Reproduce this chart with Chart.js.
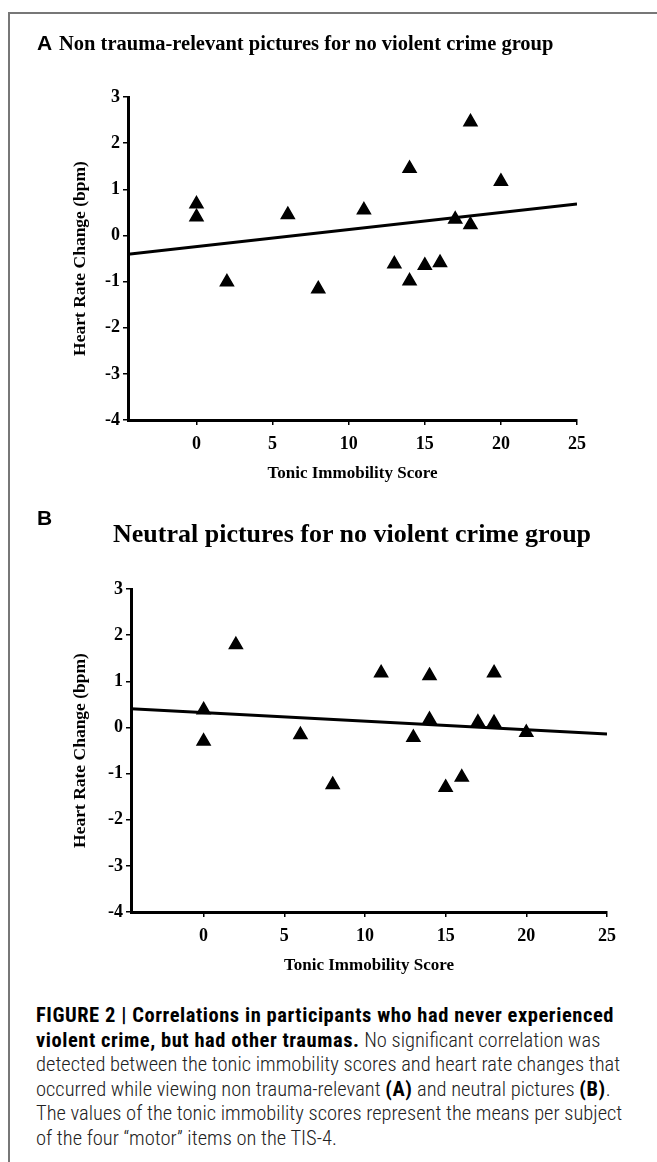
<!DOCTYPE html>
<html>
<head>
<meta charset="utf-8">
<script src="https://cdn.jsdelivr.net/npm/chart.js@4.4.0/dist/chart.umd.min.js"></script>
<style>
  html, body { margin: 0; padding: 0; background: #fff; }
  body { width: 657px; height: 1162px; position: relative; overflow: hidden; }
  .frame { position: absolute; left: 8px; top: 12px; right: -4px; bottom: -4px; border-left: 2px solid #777; border-top: 2px solid #777; }
  canvas { position: absolute; left: 0; }
  .letter { position: absolute; font-family: "Liberation Sans", Arial, sans-serif; font-weight: bold; font-size: 21px; line-height: 22px; }
  .ptitle { position: absolute; font-family: "Liberation Serif", "Times New Roman", serif; font-weight: bold; white-space: nowrap; }
  .caption { position: absolute; left: 36px; top: 1003px; width: 640px; font-family: "Liberation Sans Narrow", "Roboto Condensed", "Arial Narrow", sans-serif; font-weight: 300; font-size: 20.5px; line-height: 24.5px; color: #222; }
  .caption div { white-space: nowrap; }
  .caption b { color: #000; font-weight: 700; letter-spacing: 0.55px; }
</style>
</head>
<body>
<div class="frame"></div>
<canvas id="chartA" width="657" height="500" style="top:0"></canvas>
<canvas id="chartB" width="657" height="500" style="top:492px"></canvas>

<div class="letter" style="left:37px; top:32px">A</div>
<div class="ptitle" style="left:59px; top:31px; font-size:20.5px; line-height:24px">Non trauma-relevant pictures for no violent crime group</div>
<div class="letter" style="left:37px; top:507px">B</div>
<div class="ptitle" style="left:113px; top:519px; font-size:26px; line-height:30px">Neutral pictures for no violent crime group</div>

<div class="caption">
  <div><b>FIGURE 2 | Correlations in participants who had never experienced</b></div>
  <div><b>violent crime, but had other traumas.</b> No significant correlation was</div>
  <div>detected between the tonic immobility scores and heart rate changes that</div>
  <div>occurred while viewing non trauma-relevant <b>(A)</b> and neutral pictures <b>(B)</b>.</div>
  <div>The values of the tonic immobility scores represent the means per subject</div>
  <div>of the four “motor” items on the TIS-4.</div>
</div>

<script>
// valores
const tonicA = [0, 0, 2, 6, 8, 11, 13, 14, 14, 15, 16, 17, 18, 18, 20]
const heartA = [0.68, 0.40, -1.01, 0.45, -1.16, 0.55, -0.62, 1.45, -0.99, -0.65, -0.59, 0.35, 2.46, 0.23, 1.17]
const tonicB = [0, 0, 2, 6, 8, 11, 13, 14, 14, 15, 16, 17, 18, 18, 20]
const heartB = [0.38, -0.30, 1.79, -0.16, -1.24, 1.18, -0.22, 1.12, 0.17, -1.30, -1.08, 0.11, 1.18, 0.10, -0.11]
const xTicks = [0, 5, 10, 15, 20, 25]
const yTicks = [-4, -3, -2, -1, 0, 1, 2, 3]
const xRange = [-4.5, 25]

const serif = '"Liberation Serif", "Times New Roman", serif'

// recta de minimos cuadrados sobre todo el eje x
const getTrend = (xs, ys) => {
    const n = xs.length
    const mx = xs.reduce((a, b) => a + b, 0) / n
    const my = ys.reduce((a, b) => a + b, 0) / n
    let sxy = 0
    let sxx = 0
    xs.forEach((x, i) => {
        sxy += (x - mx) * (ys[i] - my)
        sxx += (x - mx) * (x - mx)
    })
    const slope = sxy / sxx
    const inter = my - slope * mx
    return xRange.map(x => ({ x: x, y: inter + slope * x }))
}

const makeChart = (id, xs, ys, axisX, plotRight) => {
    const context = document.getElementById(id).getContext('2d')
    return new Chart(context, {
        type: 'scatter',
        data: {
            datasets: [
                {
                    label: 'datos',
                    data: xs.map((x, i) => ({ x: x, y: ys[i] })),
                    pointStyle: 'triangle',
                    pointRadius: 7.5,
                    pointBackgroundColor: '#000',
                    pointBorderColor: '#000',
                    pointBorderWidth: 1.5,
                    order: 0
                },
                {
                    label: 'tendencia',
                    data: getTrend(xs, ys),
                    showLine: true,
                    pointRadius: 0,
                    borderColor: '#000',
                    borderWidth: 3,
                    order: 1
                }
            ]
        },
        options: {
            responsive: false,
            animation: false,
            layout: { padding: { left: 58, right: 657 - plotRight, top: 97, bottom: 16 } },
            plugins: { legend: { display: false }, tooltip: { enabled: false }, title: { display: false } },
            scales: {
                x: {
                    type: 'linear',
                    min: xRange[0],
                    max: xRange[1],
                    afterBuildTicks: s => { s.ticks = xTicks.map(v => ({ value: v })) },
                    afterFit: s => { s.height = 64 },
                    grid: { drawOnChartArea: false, drawTicks: true, tickLength: 5, color: '#000', lineWidth: 1.5 },
                    border: { display: true, color: '#000', width: 3 },
                    ticks: { color: '#000', padding: 9, autoSkip: false, maxRotation: 0, font: { family: serif, size: 18, weight: 'bold' } },
                    title: { display: true, text: 'Tonic Immobility Score', color: '#000', padding: { top: 0, bottom: 0 }, font: { family: serif, size: 17, weight: 'bold' } }
                },
                y: {
                    type: 'linear',
                    min: yTicks[0],
                    max: yTicks[yTicks.length - 1],
                    afterBuildTicks: s => { s.ticks = yTicks.map(v => ({ value: v })) },
                    afterFit: s => { s.width = axisX - 58 },
                    grid: { drawOnChartArea: false, drawTicks: true, tickLength: 5, color: '#000', lineWidth: 1.5 },
                    border: { display: true, color: '#000', width: 3 },
                    ticks: { color: '#000', padding: 3, font: { family: serif, size: 18, weight: 'bold' } },
                    title: { display: true, text: 'Heart Rate Change (bpm)', color: '#000', padding: { top: 12, bottom: 0 }, font: { family: serif, size: 17.5, weight: 'bold' } }
                }
            }
        }
    })
}

const chartA = makeChart('chartA', tonicA, heartA, 128, 577)
const chartB = makeChart('chartB', tonicB, heartB, 131, 607)
</script>
</body>
</html>
